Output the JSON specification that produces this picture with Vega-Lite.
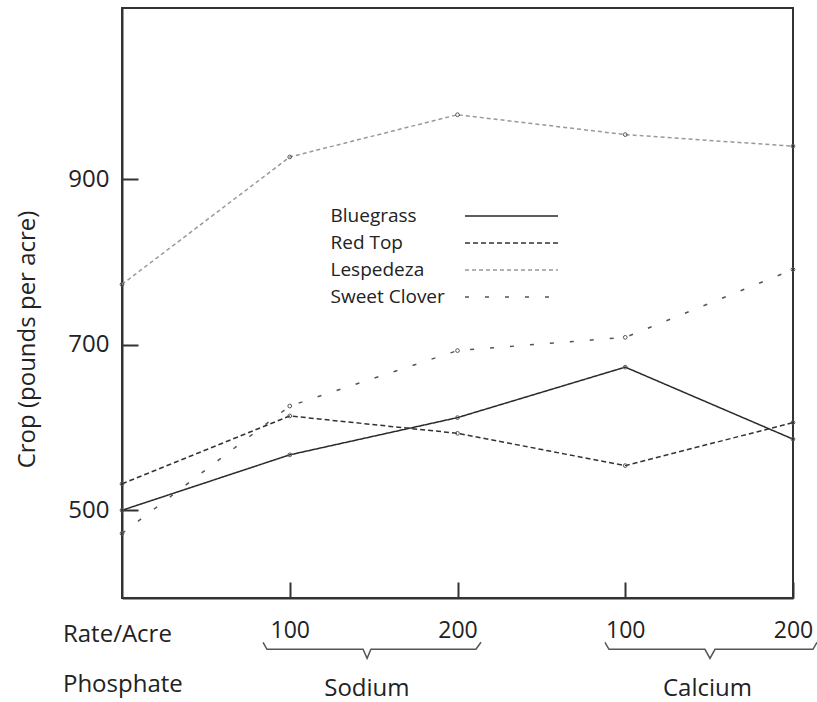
{
  "$schema": "https://vega.github.io/schema/vega-lite/v6.json",
  "width": 671,
  "height": 590,
  "autosize": {"type": "none"},
  "padding": {"left": 122, "top": 8, "right": 24, "bottom": 104},
  "background": "white",
  "config": {
    "view": {"stroke": "#333", "strokeWidth": 2},
    "font": "Open Sans",
    "legend": {
      "symbolType": "M12.4,0H21.7",
      "symbolSize": 400,
      "symbolStrokeWidth": 1.5,
      "labelFont": "Open Sans",
      "labelFontSize": 19,
      "labelColor": "#222",
      "labelOffset": -21.5,
      "symbolOffset": 0,
      "rowPadding": 6,
      "padding": 0
    }
  },
  "datasets": {
    "crops": [
      {"crop": "Bluegrass", "pos": 0, "crop_yield": 500},
      {"crop": "Bluegrass", "pos": 1, "crop_yield": 567},
      {"crop": "Bluegrass", "pos": 2, "crop_yield": 612},
      {"crop": "Bluegrass", "pos": 3, "crop_yield": 673},
      {"crop": "Bluegrass", "pos": 4, "crop_yield": 586},
      {"crop": "Red Top", "pos": 0, "crop_yield": 532},
      {"crop": "Red Top", "pos": 1, "crop_yield": 614},
      {"crop": "Red Top", "pos": 2, "crop_yield": 593},
      {"crop": "Red Top", "pos": 3, "crop_yield": 554},
      {"crop": "Red Top", "pos": 4, "crop_yield": 606},
      {"crop": "Lespedeza", "pos": 0, "crop_yield": 773},
      {"crop": "Lespedeza", "pos": 1, "crop_yield": 927},
      {"crop": "Lespedeza", "pos": 2, "crop_yield": 978},
      {"crop": "Lespedeza", "pos": 3, "crop_yield": 954},
      {"crop": "Lespedeza", "pos": 4, "crop_yield": 940},
      {"crop": "Sweet Clover", "pos": 0, "crop_yield": 472},
      {"crop": "Sweet Clover", "pos": 1, "crop_yield": 626},
      {"crop": "Sweet Clover", "pos": 2, "crop_yield": 693},
      {"crop": "Sweet Clover", "pos": 3, "crop_yield": 709},
      {"crop": "Sweet Clover", "pos": 4, "crop_yield": 791}
    ],
    "braces": [
      {"group": "Sodium", "pos": 0.841, "crop_yield": 340.5},
      {"group": "Sodium", "pos": 0.864, "crop_yield": 332},
      {"group": "Sodium", "pos": 1.437, "crop_yield": 332},
      {"group": "Sodium", "pos": 1.461, "crop_yield": 321},
      {"group": "Sodium", "pos": 1.484, "crop_yield": 332},
      {"group": "Sodium", "pos": 2.11, "crop_yield": 332},
      {"group": "Sodium", "pos": 2.14, "crop_yield": 340.5},
      {"group": "Calcium", "pos": 2.879, "crop_yield": 340.5},
      {"group": "Calcium", "pos": 2.903, "crop_yield": 332},
      {"group": "Calcium", "pos": 3.475, "crop_yield": 332},
      {"group": "Calcium", "pos": 3.505, "crop_yield": 321},
      {"group": "Calcium", "pos": 3.535, "crop_yield": 332},
      {"group": "Calcium", "pos": 4.119, "crop_yield": 332},
      {"group": "Calcium", "pos": 4.143, "crop_yield": 340.5}
    ],
    "notes": [
      {"kind": "row", "label": "Rate/Acre", "pos": -0.352, "crop_yield": 341},
      {"kind": "row", "label": "Phosphate", "pos": -0.352, "crop_yield": 280},
      {"kind": "group", "label": "Sodium", "pos": 1.46, "crop_yield": 276},
      {"kind": "group", "label": "Calcium", "pos": 3.49, "crop_yield": 276}
    ]
  },
  "encoding": {
    "x": {
      "field": "pos", "type": "quantitative",
      "scale": {"domain": [0, 4], "nice": false, "zero": false},
      "axis": {
        "title": null, "values": [1, 2, 3, 4],
        "labelExpr": "datum.value == 1 || datum.value == 3 ? '100' : '200'",
        "tickSize": -16, "tickWidth": 2, "tickColor": "#333",
        "domainColor": "#333", "domainWidth": 2,
        "labelFont": "Open Sans", "labelFontSize": 23, "labelColor": "#222",
        "labelPadding": 55, "labelBaseline": "alphabetic",
        "labelFlush": false, "labelOverlap": false, "grid": false
      }
    },
    "y": {
      "field": "crop_yield", "type": "quantitative",
      "scale": {"domain": [394, 1107], "nice": false, "zero": false},
      "axis": {
        "title": "Crop (pounds per acre)", "values": [500, 700, 900],
        "tickSize": -16, "tickWidth": 2, "tickColor": "#333",
        "domainColor": "#333", "domainWidth": 2,
        "labelFont": "Open Sans", "labelFontSize": 24, "labelColor": "#222",
        "labelPadding": 29, "grid": false,
        "titleFont": "Open Sans", "titleFontSize": 24, "titleFontWeight": "normal",
        "titleColor": "#222", "titleX": -95, "titleY": 331, "titleBaseline": "middle"
      }
    }
  },
  "layer": [
    {
      "data": {"name": "crops"},
      "mark": {"type": "line", "strokeWidth": 1.5},
      "encoding": {
        "color": {
          "field": "crop", "type": "nominal",
          "scale": {"domain": ["Bluegrass", "Red Top", "Lespedeza", "Sweet Clover"], "range": ["#2a2a2a", "#333333", "#999999", "#555555"]},
          "legend": {"title": null, "orient": "none", "legendX": 208, "legendY": 197}
        },
        "strokeDash": {
          "field": "crop", "type": "nominal",
          "scale": {"domain": ["Bluegrass", "Red Top", "Lespedeza", "Sweet Clover"], "range": [[1, 0], [5, 3], [4, 3], [4, 16]]},
          "legend": {"title": null, "orient": "none", "legendX": 208, "legendY": 197}
        }
      }
    },
    {
      "data": {"name": "crops"},
      "mark": {"type": "point", "shape": "circle", "filled": false, "size": 14, "color": "#555", "strokeWidth": 1, "opacity": 1}
    },
    {
      "data": {"name": "braces"},
      "mark": {"type": "line", "color": "#555", "strokeWidth": 1.5, "clip": false},
      "encoding": {
        "detail": {"field": "group", "type": "nominal"}
      }
    },
    {
      "data": {"name": "notes"},
      "transform": [{"filter": "datum.kind == 'row'"}],
      "mark": {"type": "text", "font": "Open Sans", "fontSize": 24, "color": "#222", "align": "left", "baseline": "alphabetic"},
      "encoding": {
        "text": {"field": "label"}
      }
    },
    {
      "data": {"name": "notes"},
      "transform": [{"filter": "datum.kind == 'group'"}],
      "mark": {"type": "text", "font": "Open Sans", "fontSize": 24, "color": "#222", "align": "center", "baseline": "alphabetic"},
      "encoding": {
        "text": {"field": "label"}
      }
    }
  ]
}
